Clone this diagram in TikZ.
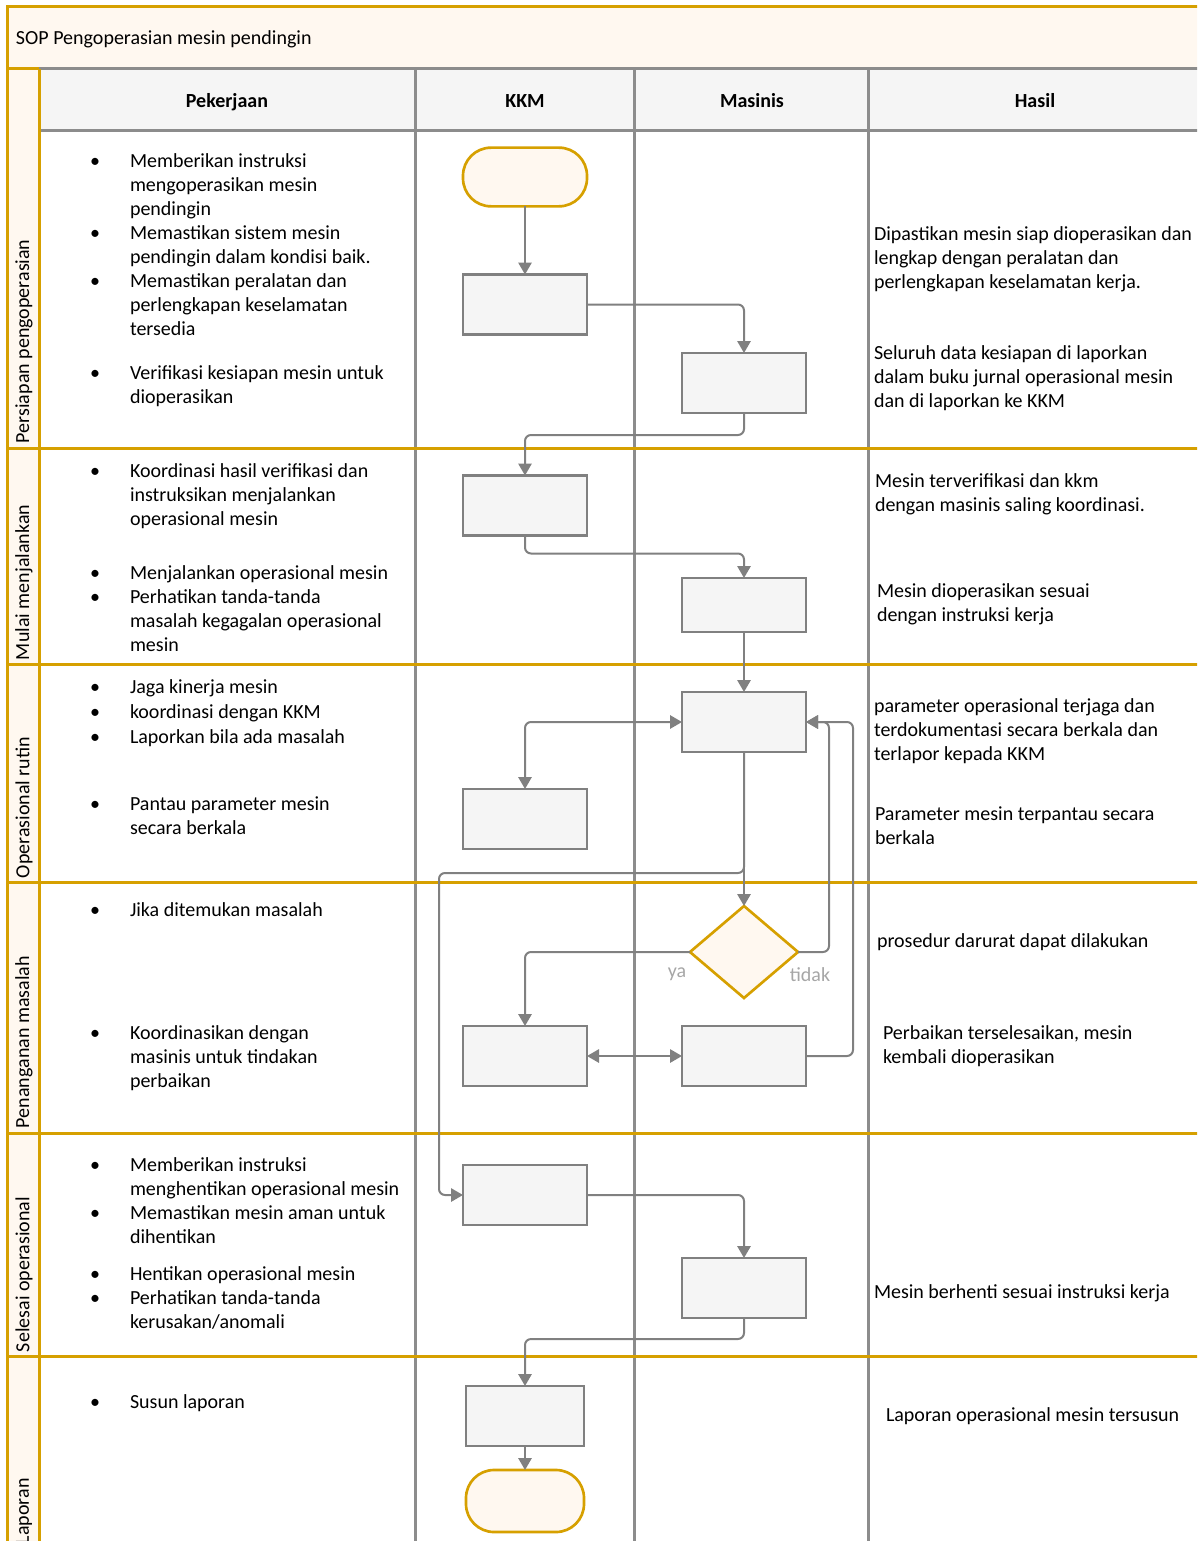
\documentclass[tikz,border=0pt]{standalone}
\usepackage{fontspec}
\setmainfont{Carlito}
\usetikzlibrary{arrows.meta,shapes.geometric}
\definecolor{gold}{HTML}{D6A000}
\definecolor{cream}{HTML}{FFF8F0}
\definecolor{boxfill}{HTML}{F5F5F5}
\definecolor{linegray}{HTML}{808080}
\definecolor{colgray}{HTML}{8C8C8C}
\definecolor{lblgray}{HTML}{A6A6A6}
\newcommand{\fsz}{\fontsize{15pt}{18pt}\selectfont}
\tikzset{
  every node/.style={font=\fsz, inner sep=0pt, outer sep=0pt},
  txt/.style={anchor=north west, align=left, yshift=-1.5pt},
  item/.style={txt, label={[anchor=north, xshift=-26.25pt]north west:\strut\textbullet}},
  lane/.style={rotate=90, anchor=west},
  hdr/.style={font=\fsz\bfseries, anchor=base},
  pbox/.style={draw=linegray, fill=boxfill, line width=2pt, minimum width=93pt, minimum height=45pt},
  terminal/.style={draw=gold, fill=cream, line width=2pt, rounded corners=21pt, minimum width=93pt, minimum height=44pt},
  decision/.style={diamond, draw=gold, fill=cream, line width=2pt, minimum width=81pt, minimum height=69pt},
  conn/.style={draw=linegray, line width=1.5pt, rounded corners=4.5pt, -{Triangle[length=9pt,width=10pt]}},
  dconn/.style={draw=linegray, line width=1.5pt, rounded corners=4.5pt, {Triangle[length=9pt,width=10pt]}-{Triangle[length=9pt,width=10pt]}},
  colline/.style={draw=colgray, line width=2.25pt},
  goldline/.style={draw=gold, line width=2.25pt},
  yn/.style={text=lblgray, anchor=base}
}
\begin{document}
\begin{tikzpicture}[x=0.75pt,y=-0.75pt]
\useasboundingbox (0,0) rectangle (1197,1541);
\clip (0,0) rectangle (1197,1541);
% backgrounds
\fill[cream] (7,7) rectangle (1205,69);
\fill[cream] (7,69) rectangle (39,1550);
\fill[boxfill] (39,69) rectangle (1205,131);
% grid lines
\draw[colline] (39,69) -- (1205,69);
\draw[colline] (39,131) -- (1205,131);
\foreach \x in {415,634,868} \draw[colline] (\x,69) -- (\x,1550);
\foreach \y in {448,664,882,1133,1356} \draw[goldline] (7,\y) -- (1205,\y);
\draw[goldline] (39,69) -- (39,1550);
\draw[goldline] (7,69) -- (39,69);
\draw[goldline] (7,1550) -- (7,7) -- (1205,7);
% title and headers
\node[txt] (title) at (16,26) {\strut SOP Pengoperasian mesin pendingin};
\node[hdr] (hpek) at (227,108) {Pekerjaan};
\node[hdr] (hkkm) at (525,108) {KKM};
\node[hdr] (hmas) at (752,108) {Masinis};
\node[hdr] (hhas) at (1035,108) {Hasil};
% lane labels
\node[lane] (l1) at (24,443) {Persiapan pengoperasian};
\node[lane] (l2) at (24,660) {Mulai menjalankan};
\node[lane] (l3) at (24,878) {Operasional rutin};
\node[lane] (l4) at (24,1128) {Penanganan masalah};
\node[lane] (l5) at (24,1352) {Selesai operasional};
\node[lane] (l6) at (24,1544) {Laporan};
% pekerjaan items
\node[item] (p1) at (130,149) {\strut Memberikan instruksi\\mengoperasikan mesin\\pendingin};
\node[item] (p2) at (130,221) {\strut Memastikan sistem mesin\\pendingin dalam kondisi baik.};
\node[item] (p3) at (130,269) {\strut Memastikan peralatan dan\\perlengkapan keselamatan\\tersedia};
\node[item] (p4) at (130,361) {\strut Verifikasi kesiapan mesin untuk\\dioperasikan};
\node[item] (p5) at (130,459) {\strut Koordinasi hasil verifikasi dan\\instruksikan menjalankan\\operasional mesin};
\node[item] (p6) at (130,561) {\strut Menjalankan operasional mesin};
\node[item] (p7) at (130,585) {\strut Perhatikan tanda-tanda\\masalah kegagalan operasional\\mesin};
\node[item] (p8) at (130,675) {\strut Jaga kinerja mesin};
\node[item] (p9) at (130,700) {\strut koordinasi dengan KKM};
\node[item] (p10) at (130,725) {\strut Laporkan bila ada masalah};
\node[item] (p11) at (130,792) {\strut Pantau parameter mesin\\secara berkala};
\node[item] (p12) at (130,898) {\strut Jika ditemukan masalah};
\node[item] (p13) at (130,1021) {\strut Koordinasikan dengan\\masinis untuk tindakan\\perbaikan};
\node[item] (p14) at (130,1153) {\strut Memberikan instruksi\\menghentikan operasional mesin};
\node[item] (p15) at (130,1201) {\strut Memastikan mesin aman untuk\\dihentikan};
\node[item] (p16) at (130,1262) {\strut Hentikan operasional mesin};
\node[item] (p17) at (130,1286) {\strut Perhatikan tanda-tanda\\kerusakan/anomali};
\node[item] (p18) at (130,1390) {\strut Susun laporan};
% hasil texts
\node[txt] (h1) at (874,222) {\strut Dipastikan mesin siap dioperasikan dan\\lengkap dengan peralatan dan\\perlengkapan keselamatan kerja.};
\node[txt] (h2) at (874,341) {\strut Seluruh data kesiapan di laporkan\\dalam buku jurnal operasional mesin\\dan di laporkan ke KKM};
\node[txt] (h3) at (875,469) {\strut Mesin terverifikasi dan kkm\\dengan masinis saling koordinasi.};
\node[txt] (h4) at (877,579) {\strut Mesin dioperasikan sesuai\\dengan instruksi kerja};
\node[txt] (h5) at (874,694) {\strut parameter operasional terjaga dan\\terdokumentasi secara berkala dan\\terlapor kepada KKM};
\node[txt] (h6) at (875,802) {\strut Parameter mesin terpantau secara\\berkala};
\node[txt] (h7) at (877,929) {\strut prosedur darurat dapat dilakukan};
\node[txt] (h8) at (883,1021) {\strut Perbaikan terselesaikan, mesin\\kembali dioperasikan};
\node[txt] (h9) at (874,1280) {\strut Mesin berhenti sesuai instruksi kerja};
\node[txt] (h10) at (886,1403) {\strut Laporan operasional mesin tersusun};
% flow shapes
\node[terminal] (start) at (525,177) {};
\node[pbox] (b1) at (525,304.5) {};
\node[pbox] (b2) at (744,383) {};
\node[pbox] (b3) at (525,505.5) {};
\node[pbox, minimum height=40.5pt] (b4) at (744,605) {};
\node[pbox] (b5) at (744,722) {};
\node[pbox] (b6) at (525,819) {};
\node[decision] (dec) at (744,952) {};
\node[pbox] (b7) at (525,1056) {};
\node[pbox] (b8) at (744,1056) {};
\node[pbox] (b9) at (525,1195) {};
\node[pbox] (b10) at (744,1288) {};
\node[pbox, minimum width=88.5pt] (b11) at (525,1416) {};
\node[terminal, minimum width=88.5pt, minimum height=46.5pt] (stop) at (525,1501) {};
\coordinate (k1) at (439,873);
\coordinate (k2) at (829,722);
\coordinate (k3) at (853,722);
% connectors
\draw[conn] (start) -- (b1);
\draw[conn] (b1.east) -| (b2.north);
\draw[conn] (b2.south) -- ++(0,22) -| (b3.north);
\draw[conn] (b3.south) -- ++(0,18) -| (b4.north);
\draw[conn] (b4) -- (b5);
\draw[dconn] (b6.north) |- (b5.west);
\draw[conn] (b5) -- (dec);
\draw[conn] (b5.south) |- (k1) |- (b9.west);
\draw[conn] (dec.west) -| (b7.north);
\draw[conn] (dec.east) -| (k2) -- (b5.east);
\draw[conn] (b8.east) -| (k3) -- (b5.east);
\draw[dconn] (b7) -- (b8);
\draw[conn] (b9.east) -| (b10.north);
\draw[conn] (b10.south) -- ++(0,21) -| (b11.north);
\draw[conn] (b11) -- (stop);
\node[yn] (ya) at (677,977) {ya};
\node[yn] (tidak) at (810,981) {tidak};
\end{tikzpicture}
\end{document}
